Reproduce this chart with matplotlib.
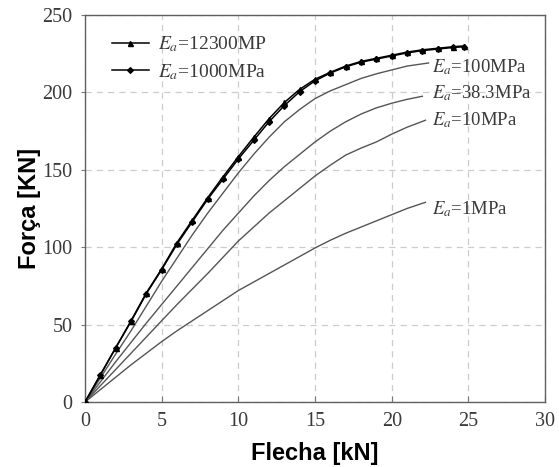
import matplotlib
matplotlib.use("Agg")
import matplotlib.pyplot as plt

# Load-deflection curves for several values of E_a
d_12300 = [0, 1, 2, 3, 4, 5, 6, 7, 8, 9, 10, 11, 12, 13, 14, 15, 16, 17, 18, 19, 20, 21, 22, 23, 24, 24.7]
f_12300 = [0, 17.5, 35, 52.5, 70.5, 86, 103, 117.5, 132, 145.5, 158.5, 171, 183, 193.5, 202, 208.5,
           213, 217, 220, 222, 224, 226, 227.5, 228.5, 229.5, 230]

d_1000 = [0, 1, 2, 3, 4, 5, 6, 7, 8, 9, 10, 11, 12, 13, 14, 15, 16, 17, 18, 19, 20, 21, 22, 23, 24, 24.7]
f_1000 = [0, 17.5, 35, 52, 70, 85.5, 102, 116.5, 131, 144, 157, 169, 181, 191.5, 200.5, 207.5,
          212.5, 216.5, 219.5, 221.5, 223.5, 225.5, 227, 228, 229, 229.5]

d_100 = [0, 1, 2, 3, 4, 5, 6, 7, 8, 9, 10, 11, 12, 13, 14, 15, 16, 17, 18, 19, 20, 21, 22.4]
f_100 = [0, 15.5, 31, 46, 62, 78, 93, 108, 122, 135, 148, 160, 171, 181, 189, 196, 201, 205, 209,
         212, 214.5, 217, 219]

d_38 = [0, 1, 2, 3, 4, 5, 6, 7, 8, 9, 10, 11, 12, 13, 14, 15, 16, 17, 18, 19, 20, 21, 22]
f_38 = [0, 13, 26, 38.5, 51, 63, 75, 87, 99, 111, 122, 133, 143, 152, 160, 168, 175, 181, 186,
        190, 193, 195.5, 197.5]

d_10 = [0, 1, 2, 3, 4, 5, 6, 7, 8, 9, 10, 11, 12, 13, 14, 15, 16, 17, 18, 19, 20, 21, 22.2]
f_10 = [0, 10.5, 21, 31.5, 42, 52.5, 63, 73, 83, 93.5, 104, 113, 122, 130, 138, 146, 153, 159.5,
        164, 168, 173, 177.5, 182]

d_1 = [0, 1, 2, 3, 4, 5, 6, 7, 8, 9, 10, 11, 12, 13, 14, 15, 16, 17, 18, 19, 20, 21, 22.2]
f_1 = [0, 8, 16, 24, 31.5, 39, 46, 52.5, 59, 65.5, 72, 77.5, 83, 88.5, 94, 99.5, 104.5, 109, 113,
       117, 121, 125, 129]

legend_labels = ["$E_a$=12300MP", "$E_a$=1000MPa"]
curve_labels = ["$E_a$=100MPa", "$E_a$=38.3MPa", "$E_a$=10MPa", "$E_a$=1MPa"]
label_pos = [(22.6, 216), (22.6, 199.5), (22.6, 182), (22.6, 124.5)]

x_ticks = [0, 5, 10, 15, 20, 25, 30]
y_ticks = [0, 50, 100, 150, 200, 250]

plt.rcParams["mathtext.fontset"] = "stix"
plt.rcParams["font.family"] = ["Liberation Serif", "DejaVu Serif"]

fig = plt.figure(figsize=(5.59, 4.67), dpi=100)
ax = fig.add_axes([0.1521, 0.1392, 0.8229, 0.8287])

text_col = "#3a3a3a"
line_col = "#555555"

ax.plot(d_12300, f_12300, color="black", lw=1.1, marker="^", ms=3.6, label=legend_labels[0], zorder=4)
ax.plot(d_1000, f_1000, color="black", lw=1.1, marker="D", ms=2.9, label=legend_labels[1], zorder=4)

for dd, ff in [(d_100, f_100), (d_38, f_38), (d_10, f_10), (d_1, f_1)]:
    ax.plot(dd, ff, color=line_col, lw=1.0, zorder=3)

for txt, (x, y) in zip(curve_labels, label_pos):
    ax.text(x, y, txt, fontsize=13.5, color=text_col, va="center", ha="left")

ax.set_xlim(0, 30)
ax.set_ylim(0, 250)
ax.set_xticks(x_ticks)
ax.set_yticks(y_ticks)
ax.tick_params(axis="both", labelsize=14.5, labelcolor=text_col, color="#777777")
ax.tick_params(axis="x", direction="in", length=4, pad=7)
ax.tick_params(axis="y", direction="out", length=3, pad=6)

ax.grid(True, color="#cccccc", lw=0.9, dashes=(5, 4))
ax.set_axisbelow(True)
for s in ax.spines.values():
    s.set_color("#606060")
    s.set_linewidth(1.0)

ax.set_xlabel("Flecha [kN]", fontsize=17, fontweight="bold", family="Liberation Sans",
              color="black", labelpad=8)
ax.set_ylabel("Força [KN]", fontsize=17, fontweight="bold", family="Liberation Sans",
              color="black", labelpad=1)

leg = ax.legend(loc="upper left", bbox_to_anchor=(0.028, 0.984), frameon=False, fontsize=14,
                handlelength=1.95, handletextpad=0.45, labelspacing=0.4, borderpad=0.2)
for t in leg.get_texts():
    t.set_color(text_col)

fig.savefig("out.png", dpi=100)
